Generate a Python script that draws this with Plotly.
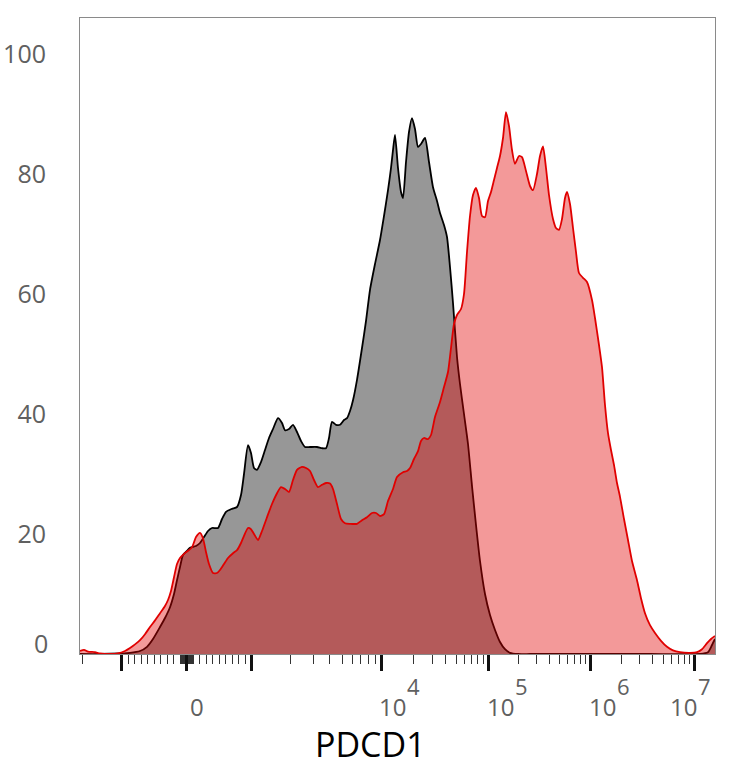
import numpy as np
import plotly.graph_objects as go

# ---------------- data (display channel on biexponential scale, % of max) -------------
gray_x = [0, 20, 40, 50, 60, 67, 73, 80, 85, 90, 94, 97, 100, 103, 107, 110, 116, 120, 124, 128,
          132, 138, 142, 146, 152, 157, 161, 164, 168, 171, 174, 177, 181, 185, 189, 193, 198, 202,
          205, 209, 213, 217, 221, 225, 230, 237, 242, 246, 249, 252, 256, 260, 264, 267, 270, 273,
          277, 282, 286, 290, 295, 300, 304, 308, 311, 313, 315, 318, 321, 323, 326, 329, 332, 335,
          338, 341, 345, 349, 353, 357, 360, 364, 367, 370, 373, 377, 380, 384, 388, 392, 396, 400,
          405, 410, 415, 420, 425, 430, 438, 450, 480, 520, 570, 620, 628, 632, 635]
gray_y = [0, 0, 0.1, 0.2, 0.5, 1.2, 2.5, 4.5, 6, 7.8, 10, 12.3, 14.5, 16.5, 17.2, 17.7, 18, 18.5,
          19.5, 20.5, 21, 21, 22.5, 23.7, 24.2, 24.5, 26.5, 30, 34.8, 33.5, 31, 30.7, 32, 34, 36,
          37.5, 39.3, 38.5, 37.3, 37.5, 38.2, 37, 35.5, 34.5, 34.5, 34.5, 34.3, 34.3, 36, 38.7, 38.2,
          38.2, 39, 39.3, 40.5, 42.3, 45.7, 51, 55.5, 60.7, 65, 69, 73, 77.3, 81, 84, 86.5, 81, 77,
          76, 82, 87, 89.3, 87.5, 84.5, 85, 86, 82, 77.8, 75.5, 73.5, 71.5, 69.5, 64.5, 58.5, 49.5,
          45, 40, 35, 28, 21.5, 15.5, 10, 6.5, 4, 2, 0.8, 0.2, 0, 0, 0, 0, 0, 0, 0.3, 1.5, 2.5]

red_x = [0, 4, 8, 15, 20, 30, 38, 45, 50, 55, 60, 65, 70, 75, 80, 85, 88, 91, 94, 97, 100, 104,
         108, 112, 116, 120, 123, 126, 129, 133, 137, 140, 144, 148, 153, 157, 161, 164, 168, 171,
         174, 178, 182, 187, 192, 197, 201, 205, 209, 213, 217, 222, 226, 230, 234, 238, 242, 246,
         250, 253, 257, 261, 265, 270, 277, 282, 287, 292, 296, 300, 304, 308, 313, 317, 323, 327,
         330, 334, 338, 341, 344, 348, 351, 355, 360, 364, 368, 371, 374, 377, 381, 384, 387, 390,
         393, 396, 399, 402, 405, 408, 411, 414, 417, 420, 423, 426, 429, 432, 435, 439, 442, 446,
         450, 453, 457, 460, 463, 466, 469, 473, 476, 479, 482, 485, 487, 490, 493, 496, 499, 503,
         507, 512, 515, 519, 522, 525, 528, 531, 534, 537, 540, 544, 548, 552, 557, 561, 565, 570,
         575, 581, 587, 593, 600, 610, 617, 622, 627, 631, 635]
red_y = [0.5, 0.7, 0.4, 0.3, 0.1, 0, 0.1, 0.5, 1, 1.6, 2.3, 3.3, 4.5, 5.6, 6.8, 8, 9, 10.5, 12.8,
         15, 16, 16.7, 17.2, 17.8, 19.5, 20.2, 19.3, 17, 15, 13.5, 13.5, 14, 15, 16, 16.8, 17.3,
         18.5, 19.7, 21, 20.8, 20, 19, 20.5, 22.8, 25, 26.8, 27.8, 27.5, 27, 29, 30.7, 31.2, 31,
         30.5, 29, 27.8, 28.2, 28.5, 28.4, 27.5, 25, 22.5, 21.8, 21.7, 21.7, 22.3, 22.8, 23.5,
         23.5, 23, 23.3, 25.5, 27.5, 29.5, 30.3, 30.5, 31, 32.5, 33.8, 35.5, 36, 35.8, 36.5, 39.5,
         42, 44.5, 47, 51, 55, 56.5, 57.5, 60, 67, 73, 76.5, 77.7, 76, 73, 72.8, 75.5, 77, 79, 81,
         83, 86, 90.3, 88, 84, 81.7, 83, 82.8, 80.5, 78, 77.3, 80, 83, 84.6, 81, 76.5, 72.5, 71,
         70.7, 72.5, 76, 77, 75, 71, 67, 63.5, 62.7, 62, 59, 56, 51.5, 47.8, 41.5, 36.8, 34, 31.5,
         28.5, 26.2, 22.5, 19, 15.5, 12.3, 9.3, 6.8, 4.8, 3.5, 2.2, 1.2, 0.6, 0.3, 0.2, 0.3, 0.8,
         1.8, 2.5, 3]

y_tick_vals = [20, 40, 60, 80, 100]
x_major_vals = [-1e3, 0, 1e3, 1e4, 1e5, 1e6, 1e7]
x_label_vals = [0, 1e4, 1e5, 1e6, 1e7]
x_label_exps = [None, "4", "5", "6", "7"]


# ---------------- biexponential display transform ----------------
def biex(v):
    lin0, lin_slope = 106.5, 0.065
    dec = {3: 171.5, 4: 301.0, 5: 408.3, 6: 510.0, 7: 614.5}
    a = abs(v)
    if a <= 1000:
        return lin0 + lin_slope * v
    lg = np.log10(a)
    lo = int(np.floor(lg))
    lo = min(max(lo, 3), 6)
    pos = dec[lo] + (lg - lo) * (dec[lo + 1] - dec[lo])
    return pos if v > 0 else 2 * lin0 - pos


minor_vals = [-2000] + [s * k * 100 for s in (-1, 1) for k in range(1, 10)]
minor_vals += [k * 10 for k in range(-9, 10) if k != 0]
for d in (3, 4, 5, 6):
    minor_vals += [m * 10 ** d for m in range(2, 10)]

fig = go.Figure()
fig.add_trace(go.Scatter(x=gray_x, y=gray_y, mode="lines", fill="tozeroy",
                         fillcolor="#979797",
                         line=dict(color="#000000", width=1.8, shape="spline", smoothing=0.6),
                         showlegend=False))
fig.add_trace(go.Scatter(x=red_x, y=red_y, mode="lines", fill="tozeroy",
                         fillcolor="rgba(224,0,0,0.40)",
                         line=dict(color="#e00000", width=1.8, shape="spline", smoothing=0.6),
                         showlegend=False))

fig.update_xaxes(range=[0, 635], automargin=False, showgrid=False, zeroline=False,
                 showline=True, mirror=True, linecolor="#8a8a8a", linewidth=1,
                 tickmode="array", tickvals=[biex(v) for v in x_major_vals],
                 showticklabels=False, ticks="outside", ticklen=16, tickwidth=3, tickcolor="#111",
                 minor=dict(tickmode="array", tickvals=[biex(v) for v in minor_vals],
                            ticks="outside", ticklen=9, tickwidth=1, tickcolor="#333"))
fig.update_yaxes(range=[0, 106], automargin=False, showgrid=False, zeroline=False,
                 showline=True, mirror=True, linecolor="#8a8a8a", linewidth=1,
                 tickmode="array", tickvals=y_tick_vals, ticks="", ticklabelstandoff=28,
                 tickfont=dict(family="Open Sans", size=25, color="#606060"))

annots = []
# "0" on y axis (lifted above the bottom edge, as in the reference)
annots.append(dict(x=-0.048, xref="paper", y=1.8, yref="y", text="0",
                   showarrow=False, xanchor="right", yanchor="middle",
                   font=dict(family="Open Sans", size=25, color="#606060")))
label_offsets = [10.5, 11, 12, 12, -11]
for v, e, off in zip(x_label_vals, x_label_exps, label_offsets):
    xc = biex(v) + off
    base = "0" if e is None else "10"
    annots.append(dict(x=xc, xref="x", y=-0.0826, yref="paper", text=base, showarrow=False,
                       xanchor="center", yanchor="middle", borderpad=0,
                       font=dict(family="Open Sans", size=24, color="#606060")))
    if e is not None:
        annots.append(dict(x=xc + 21, xref="x", y=-0.0505, yref="paper", text=e,
                           showarrow=False, xanchor="center", yanchor="middle", borderpad=0,
                           font=dict(family="Open Sans", size=22, color="#606060")))
annots.append(dict(x=0.4567, xref="paper", y=-0.1792, yref="paper", text="PDCD1",
                   showarrow=False, xanchor="center", yanchor="bottom", borderpad=0,
                   font=dict(family="Open Sans", size=34, color="#000000")))

fig.update_layout(width=734, height=768, margin=dict(l=80, r=19, t=18, b=114),
                  paper_bgcolor="white", plot_bgcolor="white", annotations=annots)

fig.write_html("out.html")
